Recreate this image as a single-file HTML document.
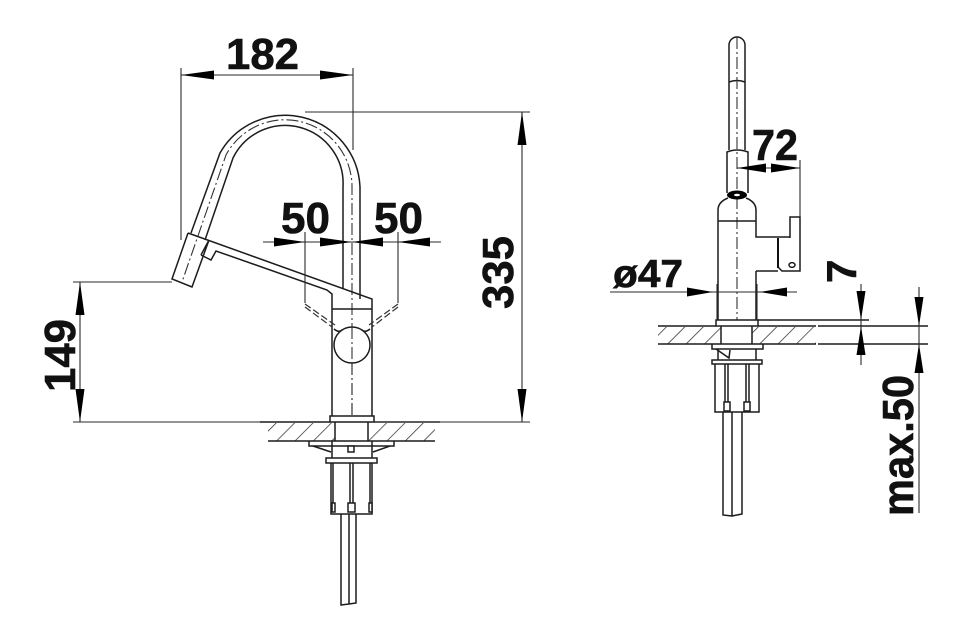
<!DOCTYPE html>
<html><head><meta charset="utf-8"><style>
html,body{margin:0;padding:0;background:#fff}
svg{display:block}
text{font-family:"Liberation Sans",sans-serif;font-weight:bold;font-size:44px;fill:#111;stroke:#111;stroke-width:.6}
.l{fill:none;stroke:#1c1c1c;stroke-width:1.5}
.t{fill:none;stroke:#2a2a2a;stroke-width:1.1}
.c{fill:none;stroke:#333;stroke-width:1.1;stroke-dasharray:12 3 2 3}
.d{fill:none;stroke:#333;stroke-width:1.2;stroke-dasharray:7 3}
.w{fill:#fff;stroke:#1c1c1c;stroke-width:1.5}
.a{fill:#000;stroke:none}
</style></head><body>
<svg width="959" height="630" viewBox="0 0 959 630" xmlns="http://www.w3.org/2000/svg">
<defs>
<pattern id="h" width="13" height="13" patternUnits="userSpaceOnUse" patternTransform="rotate(45)">
<line x1="0" y1="0" x2="0" y2="13" stroke="#222" stroke-width="1.4"/>
</pattern>
</defs>

<!-- LEFT VIEW: hatch -->
<rect x="268" y="423" width="167" height="18" fill="url(#h)"/>
<rect x="335" y="420" width="33" height="24" fill="#fff"/>
<path class="l" d="M260 422H330M374 422H440"/>
<path class="l" d="M268 441H435" stroke-width="1.6"/>

<!-- spout -->
<path class="l" d="M360 299V187A75 75 0 0 0 220 153L191 233"/>
<path class="l" d="M343 289V187A58 58 0 0 0 233 158L205 240"/>
<path class="c" d="M352 415V187A67 67 0 0 0 226 155L182 282"/>
<!-- head + handle -->
<path class="l" d="M188 233L172 279L192 287L209 240"/>
<path class="l" d="M188 233L372 299V310M201 255L211 260L216 251L327 290L332 294V416M372 310V416M332 309H372"/>
<path class="l" d="M209 240L201 255"/>
<!-- ball -->
<circle class="w" cx="352" cy="345" r="18"/>
<line class="c" x1="352" y1="327" x2="352" y2="363"/>
<line class="c" x1="352" y1="363" x2="352" y2="416"/>
<path class="l" d="M334 329Q339 333 342 330M370 329Q365 333 362 330"/>
<!-- dashed swing -->
<path class="d" d="M305 307L332 327M305 304L335 325M398 307L372 327M398 304L369 325"/>

<!-- base -->
<rect class="w" x="330" y="416" width="44" height="6"/>
<path class="l" d="M335 422V441M368 422V441M332 441V446M372 441V446"/>
<path class="l" d="M309 441V446H394V441"/>
<path class="l" d="M332 446V458M372 446V458M313 446L331 452M390 446L373 452"/>
<rect class="w" x="348" y="446" width="6" height="6"/>
<rect class="w" x="326" y="458" width="51" height="5"/>
<path class="l" d="M331 463V514H372V463M333 463V503M370 463V503M350 463V503M353 463V503"/>
<rect class="w" x="332" y="503" width="3" height="9"/>
<rect class="w" x="348" y="503" width="7" height="9"/>
<rect class="w" x="369" y="503" width="3" height="9"/>
<path class="l" d="M341 514V605L349 604V514M349 604L356 603V514"/>

<!-- LEFT dims -->
<path class="t" d="M181 68V240M353 68V150M181 75H353"/>
<path class="a" d="M181 75L214 70.5V79.5ZM353 75L320 70.5V79.5Z"/>
<text x="226" y="69" textLength="73" lengthAdjust="spacingAndGlyphs">182</text>

<path class="t" d="M305 112H530M522 112V422M374 422H530"/>
<path class="a" d="M522 112L517.5 145H526.5ZM522 422L517.5 389H526.5Z"/>
<text transform="translate(513,309) rotate(-90)" textLength="73" lengthAdjust="spacingAndGlyphs">335</text>

<path class="t" d="M73 282H172M80 282V422M73 422H260"/>
<path class="a" d="M80 282L75.5 315H84.5ZM80 422L75.5 389H84.5Z"/>
<text transform="translate(75,392) rotate(-90)" textLength="73" lengthAdjust="spacingAndGlyphs">149</text>

<path class="t" d="M263 242H441M305 232V303M398 232V303"/>
<path class="a" d="M305 242L274 237.5V246.5ZM352 242L320 237.5V246.5ZM352 242L383 237.5V246.5ZM398 242L430 237.5V246.5Z"/>
<text x="281" y="233" textLength="49" lengthAdjust="spacingAndGlyphs">50</text>
<text x="374" y="233" textLength="49" lengthAdjust="spacingAndGlyphs">50</text>

<!-- RIGHT VIEW: hatch -->
<rect x="658" y="327" width="158" height="17" fill="url(#h)"/>
<rect x="721" y="325" width="31" height="22" fill="#fff"/>
<path class="l" d="M658 326H716M758 326H816M818 326H928M658 344H816M818 344H928"/>
<path class="l" d="M758 320H869"/>

<!-- tube -->
<path class="l" d="M729 150V45A8 8 0 0 1 745 45V150M729 82Q737 79 745 82"/>
<path class="l" d="M727 193V152Q737 148 748 152V193"/>
<path class="c" d="M737 37V320"/>
<ellipse cx="737" cy="195" rx="10" ry="4.5" fill="#000"/>
<ellipse cx="737" cy="195" rx="3" ry="1.2" fill="#fff"/>
<!-- body -->
<path class="l" d="M718 320V210Q718 202 728 198M746 198Q756 202 756 210V237H790M718 221H756M756 271V320M756 271H778"/>
<path class="l" d="M790 238V217H800V271H782L778 267"/>
<path d="M778 238V268" fill="none" stroke="#111" stroke-width="2"/>
<ellipse cx="792" cy="265" rx="3" ry="2.4" class="l"/>
<!-- base -->
<rect class="w" x="716" y="320" width="42" height="6"/>
<path class="l" d="M721 326V344M752 326V344"/>
<path class="l" d="M712 344V349H763V344M719 349H756M718 349V360M756 349V360"/>
<path class="l" d="M716 349L729 358L730 350"/>
<rect class="w" x="712" y="360" width="50" height="4"/>
<path class="l" d="M715 364V412H759V364M725 364V402M728 364V402M746 364V402M749 364V402"/>
<rect class="w" x="724" y="402" width="6" height="9"/>
<rect class="w" x="744" y="402" width="6" height="9"/>
<path class="l" d="M723 412V515L732 516V412M732 516L742 514V412"/>

<!-- RIGHT dims -->
<path class="t" d="M800 160V217M737 168H800"/>
<path class="a" d="M737 168L766 163.5V172.5ZM800 168L771 163.5V172.5Z"/>
<text x="752" y="160" textLength="46" lengthAdjust="spacingAndGlyphs">72</text>

<path class="t" d="M610 292H797M717 284V320M757 284V320"/>
<path class="a" d="M713 292L687 287.5V296.5ZM760 292L787 287.5V296.5Z"/>
<text x="613" y="287" style="font-size:39px" textLength="70" lengthAdjust="spacingAndGlyphs">ø47</text>

<path class="t" d="M861 284V365"/>
<path class="a" d="M861 320L856.5 291H865.5ZM861 326L856.5 355H865.5Z"/>
<text transform="translate(856,283) rotate(-90)" style="font-size:42px">7</text>

<path class="t" d="M919 287V513"/>
<path class="a" d="M919 326L914.5 297H923.5ZM919 344L914.5 373H923.5Z"/>
<text transform="translate(913,516) rotate(-90)" textLength="141" lengthAdjust="spacingAndGlyphs">max.50</text>
</svg>
</body></html>
